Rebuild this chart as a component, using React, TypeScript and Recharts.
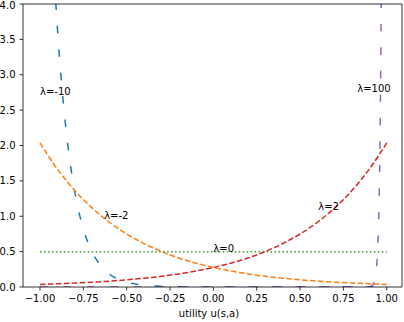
import React from 'react';
import { LineChart, Line, XAxis, YAxis, ReferenceLine, ReferenceDot } from 'recharts';

// λ = -10 (blue)
const blueU = [-1, -0.98, -0.96, -0.94, -0.93, -0.92, -0.91, -0.9, -0.88, -0.86, -0.84, -0.82, -0.8, -0.78, -0.76, -0.74, -0.72, -0.7, -0.68, -0.66, -0.64, -0.62, -0.6, -0.55, -0.5, -0.45, -0.4, -0.3, -0.2, -0.1, 0, 0.25, 0.5, 0.75, 1];
const blueV = [10, 8.187, 6.703, 5.488, 4.966, 4.493, 4.066, 3.679, 3.012, 2.466, 2.019, 1.653, 1.353, 1.108, 0.907, 0.743, 0.608, 0.498, 0.408, 0.334, 0.273, 0.224, 0.183, 0.111, 0.067, 0.041, 0.025, 0.009, 0.003, 0.001, 0, 0, 0, 0, 0];

// shared grid for λ = -2, 0, 2
const gridU = [-1, -0.9, -0.8, -0.7, -0.6, -0.5, -0.4, -0.3, -0.2, -0.1, 0, 0.1, 0.2, 0.3, 0.4, 0.5, 0.6, 0.7, 0.8, 0.9, 1];
// λ = -2 (orange)
const orangeV = [2.037, 1.668, 1.366, 1.118, 0.915, 0.749, 0.614, 0.502, 0.411, 0.337, 0.276, 0.226, 0.185, 0.151, 0.124, 0.101, 0.083, 0.068, 0.056, 0.046, 0.037];
// λ = 0 (green)
const greenV = [0.5, 0.5, 0.5, 0.5, 0.5, 0.5, 0.5, 0.5, 0.5, 0.5, 0.5, 0.5, 0.5, 0.5, 0.5, 0.5, 0.5, 0.5, 0.5, 0.5, 0.5];
// λ = 2 (red)
const redV = [0.037, 0.046, 0.056, 0.068, 0.083, 0.101, 0.124, 0.151, 0.185, 0.226, 0.276, 0.337, 0.411, 0.502, 0.614, 0.749, 0.915, 1.118, 1.366, 1.668, 2.037];

// λ = 100 (purple)
const purpleU = [-1, -0.5, 0, 0.5, 0.85, 0.88, 0.9, 0.91, 0.92, 0.93, 0.94, 0.95, 0.955, 0.96, 0.965, 0.97, 0.975, 0.98, 0.99, 1];
const purpleV = [0, 0, 0, 0, 0, 0.0006, 0.0045, 0.0123, 0.0335, 0.0912, 0.248, 0.674, 1.111, 1.832, 3.02, 4.979, 8.21, 13.53, 36.79, 100];

const xTicks = [-1, -0.75, -0.5, -0.25, 0, 0.25, 0.5, 0.75, 1];
const yTicks = [0, 0.5, 1, 1.5, 2, 2.5, 3, 3.5, 4];

const noteText = ['λ=-10', 'λ=-2', 'λ=0', 'λ=2', 'λ=100'];
const noteU = [-1.0, -0.63, 0.0, 0.605, 0.83];
const noteV = [2.707, 0.968, 0.5, 1.095, 2.763];

const toData = (us: number[], vs: number[]) => us.map((u, i) => ({ u, v: vs[i] }));

const blueData = toData(blueU, blueV);
const orangeData = toData(gridU, orangeV);
const greenData = toData(gridU, greenV);
const redData = toData(gridU, redV);
const purpleData = toData(purpleU, purpleV);

const FONT = 'DejaVu Sans';
const X_MIN = -1.098;
const X_MAX = 1.088;

const fmtX = (v: number) => v.toFixed(2).replace('-', '\u2212');
const fmtY = (v: number) => v.toFixed(1);

export default function App() {
  return (
    <div style={{ position: 'absolute', left: 0, top: 0, background: '#fff' }}>
      <LineChart width={404} height={322} margin={{ top: 4, right: 2, bottom: 0, left: 0 }}>
        <XAxis
          type="number"
          dataKey="u"
          domain={[X_MIN, X_MAX]}
          allowDataOverflow
          ticks={xTicks}
          tickFormatter={fmtX}
          height={35}
          tickSize={3.5}
          tickMargin={4}
          stroke="#000"
          strokeWidth={0.8}
          tick={{ fill: '#000', fontSize: 10, fontFamily: FONT }}
          label={{ value: 'utility u(s,a)', position: 'insideBottom', offset: 5.5, dx: -3.5, fill: '#000', fontSize: 10, fontFamily: FONT }}
        />
        <YAxis
          type="number"
          domain={[0, 4]}
          allowDataOverflow
          ticks={yTicks}
          tickFormatter={fmtY}
          width={23}
          tickSize={3.5}
          tickMargin={4}
          stroke="#000"
          strokeWidth={0.8}
          tick={{ fill: '#000', fontSize: 10, fontFamily: FONT }}
        />
        <Line data={blueData} dataKey="v" type="monotone" stroke="#1f77b4" strokeWidth={1.5} strokeDasharray="7.5 16" dot={false} isAnimationActive={false} />
        <Line data={orangeData} dataKey="v" type="monotone" stroke="#ff7f0e" strokeWidth={1.5} strokeDasharray="5.55 2.4" dot={false} isAnimationActive={false} />
        <Line data={greenData} dataKey="v" type="linear" stroke="#2ca02c" strokeWidth={1.5} strokeDasharray="1.5 2.475" dot={false} isAnimationActive={false} />
        <Line data={redData} dataKey="v" type="monotone" stroke="#d62728" strokeWidth={1.5} strokeDasharray="5.55 2.4" dot={false} isAnimationActive={false} />
        <Line data={purpleData} dataKey="v" type="monotone" stroke="#9467bd" strokeWidth={1.5} strokeDasharray="7.5 16" dot={false} isAnimationActive={false} />
        <ReferenceLine y={4} stroke="#000" strokeWidth={0.8} />
        <ReferenceLine x={X_MAX} stroke="#000" strokeWidth={0.8} />
        {noteText.map((t, i) => (
          <ReferenceDot
            key={t}
            x={noteU[i]}
            y={noteV[i]}
            r={0}
            shape={(p: any) => (
              <text x={p.cx} y={p.cy} fill="#000" fontSize={10} fontFamily={FONT} textAnchor="start">
                {t}
              </text>
            )}
          />
        ))}
      </LineChart>
    </div>
  );
}
